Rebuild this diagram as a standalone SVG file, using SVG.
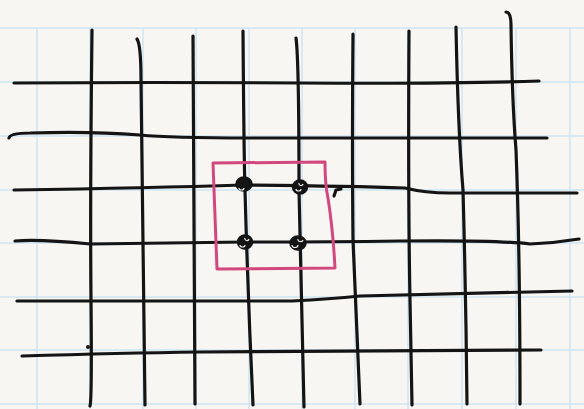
<svg xmlns="http://www.w3.org/2000/svg" width="584" height="409" viewBox="0 0 584 409">
<style>
.paper{stroke:#cfe5f2;stroke-width:1.5;fill:none}
.ink{stroke:#141414;stroke-width:3.2;fill:none;stroke-linecap:round;stroke-linejoin:round}
.box{stroke:#d2487e;stroke-width:3;fill:none;stroke-linejoin:round}
.dot{fill:#141414;stroke:#141414;stroke-width:2.5}
.hl{fill:none;stroke:#e8e8e8;stroke-width:1.2}
</style>
<rect width="584" height="409" fill="#f7f6f3"/>
<g id="paper">
<path class="paper" d="M0 28H584M0 82H584M0 136H584M0 190H584M0 243H584M0 297H584M0 350H584M0 404H584"/>
<path class="paper" d="M37 28V409M90 28V409M143 28V409M196 28V409M249 28V409M302 28V409M355 28V409M408 28V409M462 28V409M516 28V409M570 28V409"/>
</g>
<g id="horizontals">
<path class="ink" d="M14 83 Q150 82 300 83 T539 81"/>
<path class="ink" d="M9 138 Q10 133 30 133 Q90 131 140 135 Q170 138 250 138 T547 138"/>
<path class="ink" d="M14 190 Q150 188 243 185 Q350 186 405 188 Q425 193 450 193 L577 193"/>
<path class="ink" d="M15 241 Q40 239 90 244 Q170 243 245 242 Q330 242 400 241 Q500 240 530 244 Q555 243 579 239"/>
<path class="ink" d="M17 301 Q150 301 292 301 Q330 299 360 296 Q470 293 572 291"/>
<path class="ink" d="M22 356 Q120 353 200 352 Q380 351 541 350"/>
</g>
<g id="verticals">
<path class="ink" d="M92 30 Q90 200 91 300 T90 406"/>
<path class="ink" d="M137 39 Q141 45 141 80 Q143 250 145 405"/>
<path class="ink" d="M193 36 Q194 250 195 404"/>
<path class="ink" d="M243 31 Q244 160 245 190 Q248 300 253 405"/>
<path class="ink" d="M296 38 Q299 60 299 190 Q302 300 304 407"/>
<path class="ink" d="M353 34 Q352 150 353 240 Q357 330 360 404"/>
<path class="ink" d="M409 31 Q408 200 410 300 T412 405"/>
<path class="ink" d="M456 27 Q458 130 463 190 Q466 300 467 404"/>
<path class="ink" d="M506 12 Q511 12 511 25 Q512 100 516 150 Q520 250 520 404"/>
</g>
<g id="selection">
<path class="box" d="M213 163 L325 162 Q325 185 328 198 Q333 230 335 268 L217 269 Z"/>
</g>
<g id="dots">
<ellipse class="dot" cx="244" cy="184" rx="7.5" ry="6.5"/>
<path class="hl" d="M239 188 a2.5 2 0 1 0 5 0"/>
<ellipse class="dot" cx="300" cy="187" rx="7" ry="6.5"/>
<path class="hl" d="M296 189 a2.5 2 0 1 0 5 0 M299 183 a2 2 0 1 0 4 1"/>
<ellipse class="dot" cx="245" cy="242" rx="7" ry="6.5"/>
<path class="hl" d="M240 245 a2.5 2 0 1 0 5 0 M245 238 a2 2 0 1 0 4 1"/>
<ellipse class="dot" cx="298" cy="243" rx="7.5" ry="6.5"/>
<path class="hl" d="M292 245 a3 2.5 0 1 0 6 0 M298 239 a2.5 2 0 1 0 5 1"/>
</g>
<g id="marks">
<path class="ink" stroke-width="2" d="M334 196 L336 190 L341 189"/>
<circle cx="88" cy="347" r="2" fill="#141414"/>
</g>
</svg>
